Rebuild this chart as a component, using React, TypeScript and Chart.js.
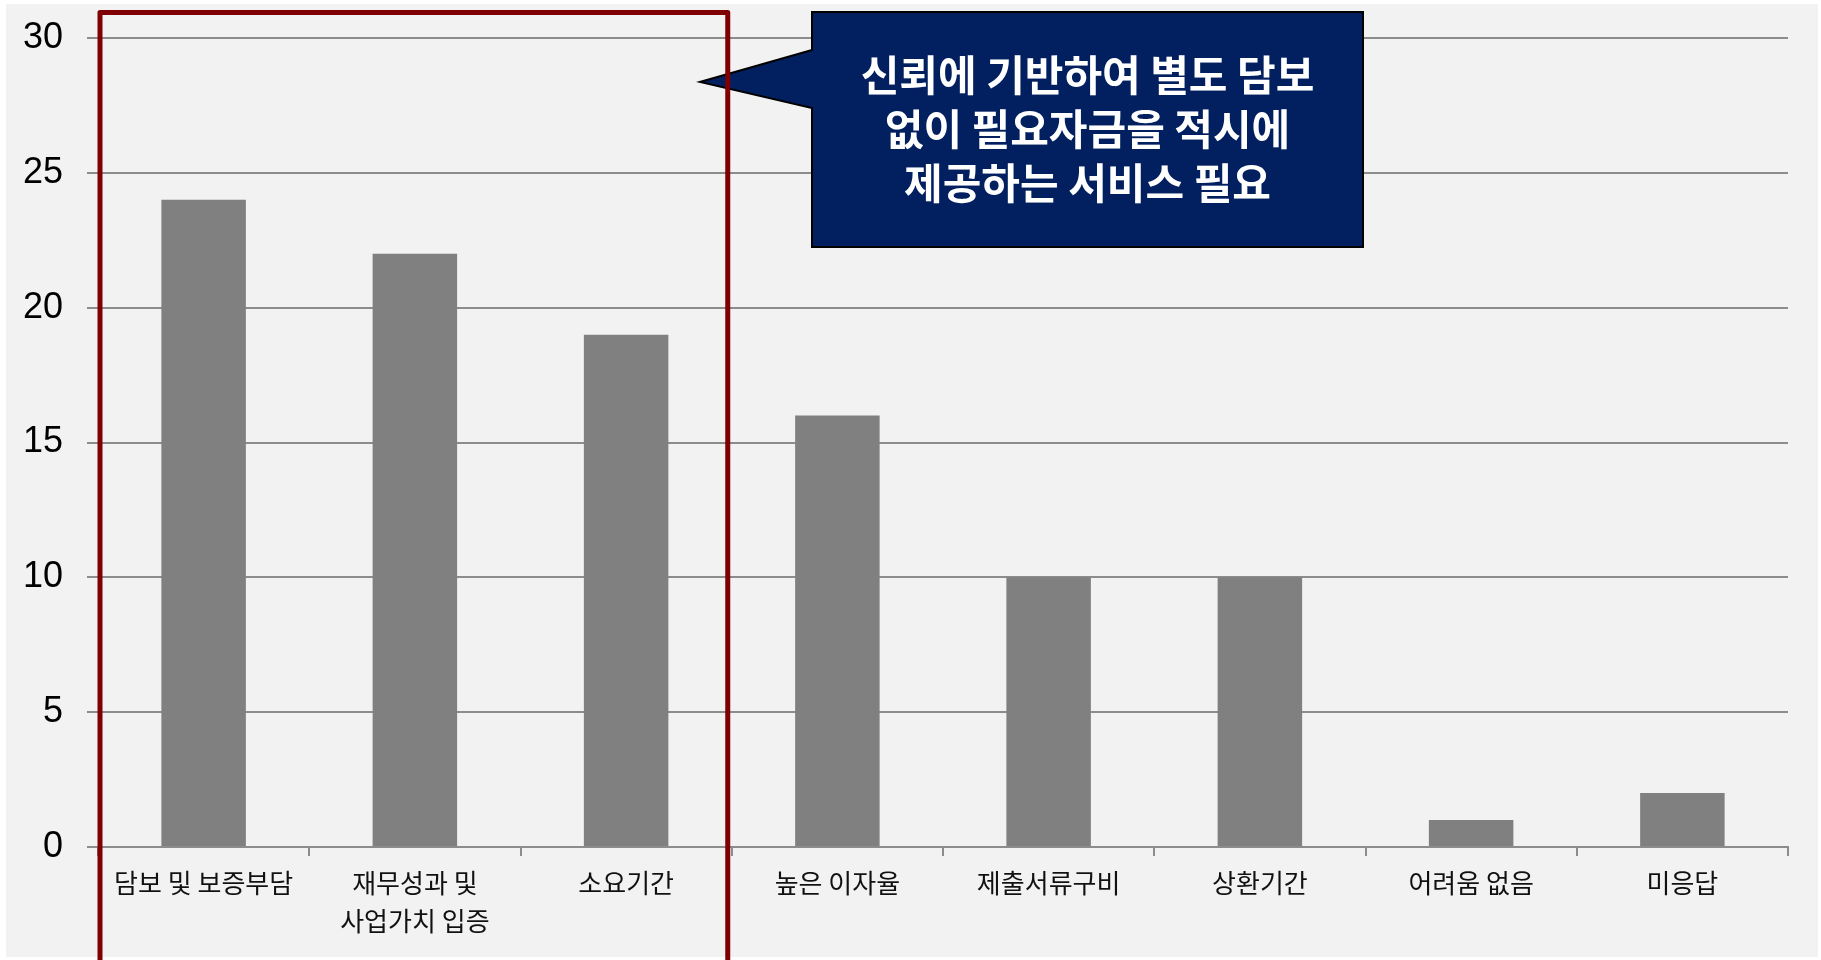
import React, { useEffect, useRef } from 'react';
import { Chart, registerables } from 'chart.js';

Chart.register(...registerables);

const categories: string[][] = [
  ['담보 및 보증부담'],
  ['재무성과 및', '사업가치 입증'],
  ['소요기간'],
  ['높은 이자율'],
  ['제출서류구비'],
  ['상환기간'],
  ['어려움 없음'],
  ['미응답'],
];
const values: number[] = [24, 22, 19, 16, 10, 10, 1, 2];
const yMin = 0;
const yMax = 30;
const yStep = 5;
const highlightCount = 3;
const calloutLines: string[] = ['신뢰에 기반하여 별도 담보', '없이 필요자금을 적시에', '제공하는 서비스 필요'];

const W = 1821;
const H = 960;

const decorPlugin = {
  id: 'decor',
  beforeDraw(chart: any) {
    const ctx = chart.ctx;
    ctx.save();
    ctx.fillStyle = '#ffffff';
    ctx.fillRect(0, 0, W, H);
    ctx.fillStyle = '#f2f2f2';
    ctx.fillRect(6, 4, 1812, 953);
    ctx.restore();
  },
  afterDraw(chart: any) {
    const ctx = chart.ctx;
    const xs = chart.scales.x;
    const area = chart.chartArea;

    // callout box
    const bx0 = 812, bx1 = 1363, by0 = 12, by1 = 247;
    const tipX = 700, tipY = 82, baseTop = 50, baseBot = 108;
    ctx.save();
    ctx.beginPath();
    ctx.moveTo(bx0, by0);
    ctx.lineTo(bx1, by0);
    ctx.lineTo(bx1, by1);
    ctx.lineTo(bx0, by1);
    ctx.lineTo(bx0, baseBot);
    ctx.lineTo(tipX, tipY);
    ctx.lineTo(bx0, baseTop);
    ctx.closePath();
    ctx.fillStyle = '#022060';
    ctx.fill();
    ctx.lineWidth = 2;
    ctx.strokeStyle = '#000000';
    ctx.lineJoin = 'miter';
    ctx.stroke();
    ctx.fillStyle = '#ffffff';
    ctx.font = 'bold 42px "Noto Sans CJK KR", "Noto Sans", sans-serif';
    ctx.textAlign = 'center';
    ctx.textBaseline = 'middle';
    const cx = (bx0 + bx1) / 2;
    calloutLines.forEach((line, i) => {
      ctx.fillText(line, cx, 75 + i * 54);
    });
    ctx.restore();

    // highlight rectangle around first categories
    const left = area.left + 2;
    const right = (xs.getPixelForValue(highlightCount - 1) + xs.getPixelForValue(highlightCount)) / 2 - 4;
    ctx.save();
    ctx.strokeStyle = '#7f0000';
    ctx.lineWidth = 5;
    ctx.lineJoin = 'round';
    ctx.beginPath();
    ctx.moveTo(left, H + 20);
    ctx.lineTo(left, 12.5);
    ctx.lineTo(right, 12.5);
    ctx.lineTo(right, H + 20);
    ctx.stroke();
    ctx.restore();
  },
};

export default function App() {
  const ref = useRef<HTMLCanvasElement | null>(null);

  useEffect(() => {
    if (!ref.current) return;
    const chart = new Chart(ref.current, {
      type: 'bar',
      data: {
        labels: categories,
        datasets: [
          {
            data: values,
            backgroundColor: '#808080',
            borderWidth: 0,
            barPercentage: 0.4,
            categoryPercentage: 1.0,
          },
        ],
      },
      options: {
        responsive: false,
        animation: false,
        devicePixelRatio: 1,
        layout: { padding: { top: 38, right: 33, bottom: 0, left: 0 } },
        plugins: {
          legend: { display: false },
          tooltip: { enabled: false },
          title: { display: false },
        },
        scales: {
          x: {
            grid: {
              display: true,
              drawOnChartArea: false,
              drawTicks: true,
              tickLength: 9,
              color: '#8c8c8c',
              lineWidth: 2,
              offset: true,
            },
            border: { display: true, color: '#8c8c8c', width: 2 },
            ticks: {
              color: '#111111',
              autoSkip: false,
              maxRotation: 0,
              minRotation: 0,
              padding: 8,
              font: { family: '"Noto Sans CJK KR", "Noto Sans", sans-serif', size: 26, lineHeight: 38 / 26 },
            },
            afterFit: (s: any) => {
              s.height = 113;
              s.paddingLeft = 0;
              s.paddingRight = 0;
            },
          },
          y: {
            min: yMin,
            max: yMax,
            grid: { color: '#8c8c8c', lineWidth: 2, tickLength: 11 },
            border: { display: false },
            ticks: {
              stepSize: yStep,
              color: '#000000',
              padding: 24,
              font: { family: '"Liberation Sans", Arial, sans-serif', size: 36 },
            },
            afterFit: (s: any) => {
              s.width = 98;
              s.paddingTop = 0;
              s.paddingBottom = 0;
            },
          },
        },
      },
      plugins: [decorPlugin],
    });
    return () => chart.destroy();
  }, []);

  return (
    <div style={{ position: 'fixed', left: 0, top: 0, width: W, height: H, background: '#ffffff' }}>
      <canvas ref={ref} width={W} height={H} style={{ width: W, height: H, display: 'block' }} />
    </div>
  );
}
